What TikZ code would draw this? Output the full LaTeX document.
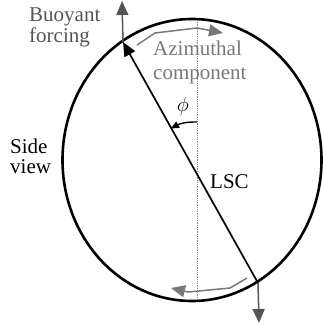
\documentclass[tikz,border=0pt]{standalone}
\usepackage{fontspec}
\setmainfont{Liberation Serif}
\usetikzlibrary{arrows.meta}
\definecolor{buoy}{gray}{0.33}
\definecolor{azim}{gray}{0.47}
\definecolor{dotc}{gray}{0.55}
\tikzset{
  lbl/.style={inner sep=0pt, anchor=base west, font=\fontsize{21}{23}\selectfont},
  bigtip/.style={-{Triangle[length=14pt,width=12pt]}},
  smalltip/.style={-{Triangle[length=8pt,width=7pt]}},
}
\begin{document}
\begin{tikzpicture}[x=1pt,y=-1pt]
\useasboundingbox (0,0) rectangle (322,327);
% coordinates
\coordinate (c) at (192,160);
\coordinate (lscTop) at (123,42);
\coordinate (lscBot) at (258,283);
\coordinate (dotTop) at (197,20);
\coordinate (dotBot) at (197,300);
\coordinate (upTip) at (122,1);
\coordinate (downTip) at (259,323);
\coordinate (phiA) at (197,122);
\coordinate (phiB) at (171,128.5);
\coordinate (a1) at (137,45);
\coordinate (a2) at (155,33);
\coordinate (a3) at (197,28);
\coordinate (a4) at (223,33);
\coordinate (b1) at (247,278);
\coordinate (b2) at (230,288);
\coordinate (b3) at (188,292);
\coordinate (b4) at (171,288);
% dotted vertical
\draw[dotc, line width=0.8pt, dash pattern=on 0.9pt off 0.9pt] (dotTop) -- (dotBot);
% cell
\draw[line width=2.6pt] (c) ellipse [x radius=129.5pt, y radius=141pt];
% LSC
\draw[line width=1.7pt, bigtip] (lscBot) -- (lscTop);
% buoyant forcing arrows
\draw[buoy, line width=1.5pt, bigtip] (lscTop) -- (upTip);
\draw[buoy, line width=1.5pt, bigtip] (lscBot) -- (downTip);
% azimuthal arrows
\draw[azim, line width=1.5pt, bigtip] (a1) -- (a2) -- (a3) -- (a4);
\draw[azim, line width=1.5pt, bigtip] (b1) -- (b2) -- (b3) -- (b4);
% phi arc
\draw[line width=1.4pt, smalltip] (phiA) to[bend right=15] (phiB);
% labels
\node[lbl, buoy] (t1) at (29,21) {Buoyant};
\node[lbl, buoy] (t2) at (29,42) {forcing};
\node[lbl, azim] (t3) at (153,55.5) {Azimuthal};
\node[lbl, azim] (t4) at (153,79) {component};
\node[lbl] (t5) at (10,153) {Side};
\node[lbl] (t6) at (10,173) {view};
\node[lbl] (t7) at (210,188) {LSC};
\node[inner sep=0pt, font=\fontsize{21}{23}\selectfont] (t8) at (183,106) {$\phi$};
\end{tikzpicture}
\end{document}
